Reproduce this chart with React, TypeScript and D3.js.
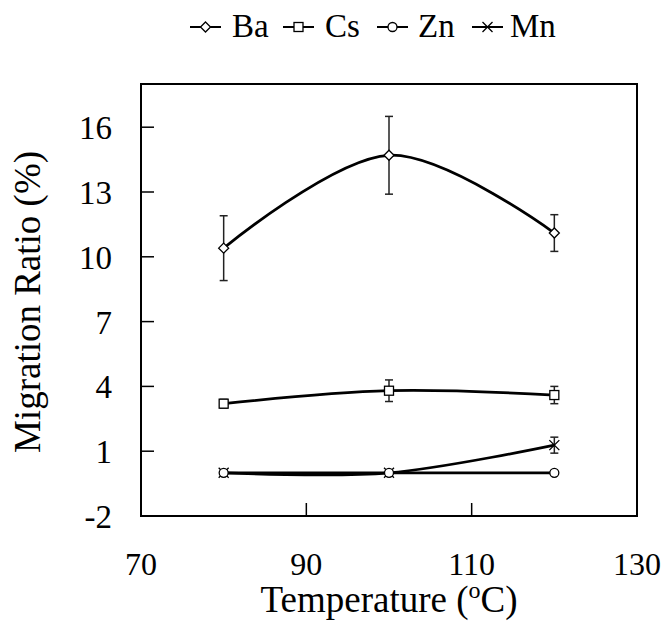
import React from "react";
import * as d3 from "d3";

const temps = [80, 100, 120];
const seriesNames = ["Ba", "Cs", "Zn", "Mn"];
const baValues = [10.4, 14.7, 11.1];
const baErrors = [1.5, 1.8, 0.85];
const csValues = [3.2, 3.8, 3.6];
const csErrors = [0.2, 0.5, 0.4];
const znValues = [0, 0, 0];
const znErrors = [0, 0, 0];
const mnValues = [0, 0, 1.28];
const mnErrors = [0, 0, 0.37];
const xTicks = [70, 90, 110, 130];
const yTicks = [-2, 1, 4, 7, 10, 13, 16];

const W = 665, H = 626;
const M = { left: 141, right: 637, top: 84, bottom: 516 };
const FONT = "Liberation Serif, DejaVu Serif, serif";

type Series = { name: string; values: number[]; errors: number[] };
const series: Series[] = [
  { name: seriesNames[0], values: baValues, errors: baErrors },
  { name: seriesNames[1], values: csValues, errors: csErrors },
  { name: seriesNames[2], values: znValues, errors: znErrors },
  { name: seriesNames[3], values: mnValues, errors: mnErrors },
];

function Marker({ name, x, y }: { name: string; x: number; y: number }) {
  const s = 5;
  if (name === "Ba")
    return <path d={`M${x},${y - s}L${x + s},${y}L${x},${y + s}L${x - s},${y}Z`} fill="#fff" stroke="#000" strokeWidth={1.3} />;
  if (name === "Cs")
    return <rect x={x - 4.5} y={y - 4.5} width={9} height={9} fill="#fff" stroke="#000" strokeWidth={1.3} />;
  if (name === "Zn")
    return <circle cx={x} cy={y} r={4.5} fill="#fff" stroke="#000" strokeWidth={1.3} />;
  return <path d={`M${x - 5},${y - 5}L${x + 5},${y + 5}M${x - 5},${y + 5}L${x + 5},${y - 5}`} stroke="#000" strokeWidth={1.3} fill="none" />;
}

const txt = { fontFamily: FONT, fill: "#000" } as React.CSSProperties;

export default function App() {
  const x = d3.scaleLinear().domain([70, 130]).range([M.left, M.right]);
  const y = d3.scaleLinear().domain([-2, 18]).range([M.bottom, M.top]);
  const line = d3
    .line<number>()
    .x((_, i) => x(temps[i]))
    .y((v) => y(v))
    .curve(d3.curveCardinal.tension(0));

  const legendItems = [
    { name: "Ba", lx: 190, tx: 232 },
    { name: "Cs", lx: 283, tx: 325 },
    { name: "Zn", lx: 377, tx: 418 },
    { name: "Mn", lx: 472, tx: 510 },
  ];
  const ly = 27;

  return (
    <svg width={W} height={H} style={{ position: "absolute", left: 0, top: 0, background: "#fff" }}>
      <rect width={W} height={H} fill="#fff" />
      {/* legend */}
      {legendItems.map((it) => (
        <g key={it.name}>
          <line x1={it.lx} x2={it.lx + 31} y1={ly} y2={ly} stroke="#000" strokeWidth={2} />
          <Marker name={it.name} x={it.lx + 15.5} y={ly} />
          <text x={it.tx} y={37} style={{ ...txt, fontSize: 33 }}>
            {it.name}
          </text>
        </g>
      ))}
      {/* frame */}
      <rect x={M.left} y={M.top} width={M.right - M.left} height={M.bottom - M.top} fill="none" stroke="#000" strokeWidth={2} />
      {/* y ticks */}
      {yTicks.map((t) => (
        <g key={t}>
          <line x1={M.left} x2={M.left + 13} y1={y(t)} y2={y(t)} stroke="#000" strokeWidth={1.5} />
          <text x={112} y={y(t) + 12} textAnchor="end" style={{ ...txt, fontSize: 33 }}>
            {t}
          </text>
        </g>
      ))}
      {/* x ticks */}
      {xTicks.map((t) => (
        <g key={t}>
          {t !== 70 && t !== 130 && (
            <line x1={x(t)} x2={x(t)} y1={M.bottom} y2={M.bottom - 13} stroke="#000" strokeWidth={1.5} />
          )}
          <text x={x(t)} y={575} textAnchor="middle" style={{ ...txt, fontSize: 32 }}>
            {t}
          </text>
        </g>
      ))}
      {/* axis titles */}
      <text x={389} y={612} textAnchor="middle" style={{ ...txt, fontSize: 37 }}>
        Temperature (<tspan dy={-14} style={{ fontSize: 24 }}>o</tspan>
        <tspan dy={14}>C)</tspan>
      </text>
      <text transform={`translate(40,${302}) rotate(-90)`} textAnchor="middle" style={{ ...txt, fontSize: 37 }}>
        Migration Ratio (%)
      </text>
      {/* series lines */}
      {[...series].reverse().map((s) => (
        <path key={s.name} d={line(s.values) || ""} fill="none" stroke="#000" strokeWidth={2.7} />
      ))}
      {/* error bars */}
      {series.map((s) =>
        s.values.map((v, i) =>
          s.errors[i] > 0 ? (
            <g key={s.name + i} stroke="#222" strokeWidth={1.5}>
              <line x1={x(temps[i])} x2={x(temps[i])} y1={y(v - s.errors[i])} y2={y(v + s.errors[i])} />
              <line x1={x(temps[i]) - 4} x2={x(temps[i]) + 4} y1={y(v - s.errors[i])} y2={y(v - s.errors[i])} />
              <line x1={x(temps[i]) - 4} x2={x(temps[i]) + 4} y1={y(v + s.errors[i])} y2={y(v + s.errors[i])} />
            </g>
          ) : null
        )
      )}
      {/* markers */}
      {[...series].reverse().map((s) =>
        s.values.map((v, i) => <Marker key={s.name + "m" + i} name={s.name} x={x(temps[i])} y={y(v)} />)
      )}
    </svg>
  );
}
